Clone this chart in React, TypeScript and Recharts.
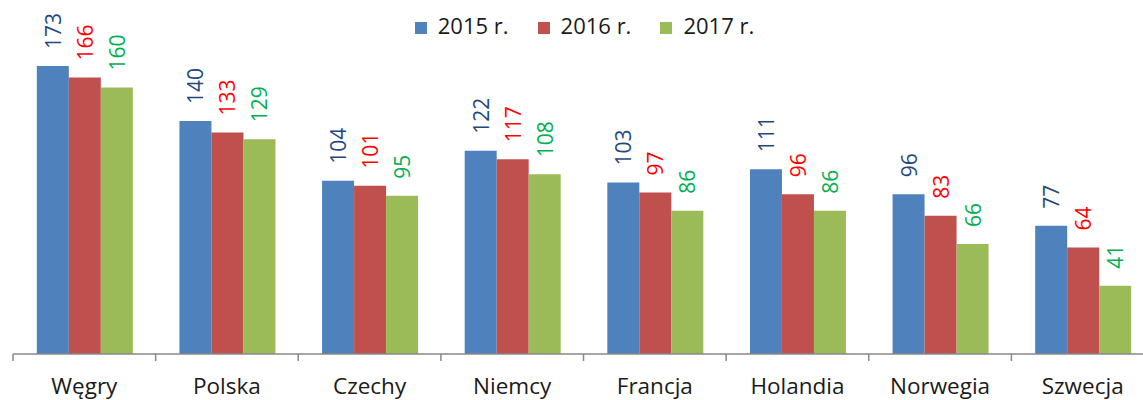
import { BarChart, Bar, XAxis, YAxis, Legend, LabelList } from 'recharts';

const countries = ['Węgry', 'Polska', 'Czechy', 'Niemcy', 'Francja', 'Holandia', 'Norwegia', 'Szwecja'];
const y2015 = [173, 140, 104, 122, 103, 111, 96, 77];
const y2016 = [166, 133, 101, 117, 97, 96, 83, 64];
const y2017 = [160, 129, 95, 108, 86, 86, 66, 41];

const series = [
    { key: 'y2015', name: '2015 r.', fill: '#4F81BD', label: '#1F497D' },
    { key: 'y2016', name: '2016 r.', fill: '#C0504D', label: '#FF0000' },
    { key: 'y2017', name: '2017 r.', fill: '#9BBB59', label: '#00B050' },
];

const points = countries.map((name, i) => ({ name, y2015: y2015[i], y2016: y2016[i], y2017: y2017[i] }));

const FONT = '"Open Sans", sans-serif';
const HALF_BAND = 71.3;

const CategoryTick = ({ x, y, payload }: any) => (
    <g>
        <line x1={x - HALF_BAND} x2={x - HALF_BAND} y1={y - 8} y2={y - 1} stroke="#898989" strokeWidth={1.5} />
        <text x={x} y={y + 32} textAnchor="middle" fontSize={22.5} fontFamily={FONT} fill="#1a1a1a">
            {payload.value}
        </text>
    </g>
);

const rotatedLabel = (color: string) => (props: any) => {
    const { x, y, width, value } = props;
    const cx = x + width / 2;
    return (
        <text
            transform={`translate(${cx},${y - 17}) rotate(-90)`}
            textAnchor="start"
            dominantBaseline="central"
            fontSize={21}
            fontFamily={FONT}
            fill={color}
        >
            {value}
        </text>
    );
};

export default function App() {
    return (
        <div style={{ position: 'absolute', left: 0, top: 0, width: 1143, height: 400, overflow: 'hidden', background: '#fff' }}>
            <BarChart
                width={1160}
                height={400}
                data={points}
                margin={{ top: 21, right: 6, left: 13, bottom: 0 }}
                barCategoryGap="16.7%"
                barGap={0}
            >
                <XAxis
                    dataKey="name"
                    height={46}
                    axisLine={{ stroke: '#898989', strokeWidth: 1.5 }}
                    tickLine={false}
                    tick={<CategoryTick />}
                    interval={0}
                />
                <YAxis hide domain={[0, 200]} />
                <Legend
                    verticalAlign="middle"
                    align="center"
                    iconType="square"
                    iconSize={12}
                    wrapperStyle={{ top: 10, left: 13, width: 1172, fontFamily: FONT, fontSize: 22 }}
                    formatter={(value: string) => (
                        <span style={{ color: '#1a1a1a', paddingLeft: 7, paddingRight: 19 }}>{value}</span>
                    )}
                />
                {series.map(s => (
                    <Bar key={s.key} dataKey={s.key} name={s.name} fill={s.fill} isAnimationActive={false}>
                        <LabelList dataKey={s.key} content={rotatedLabel(s.label)} />
                    </Bar>
                ))}
            </BarChart>
        </div>
    );
}
